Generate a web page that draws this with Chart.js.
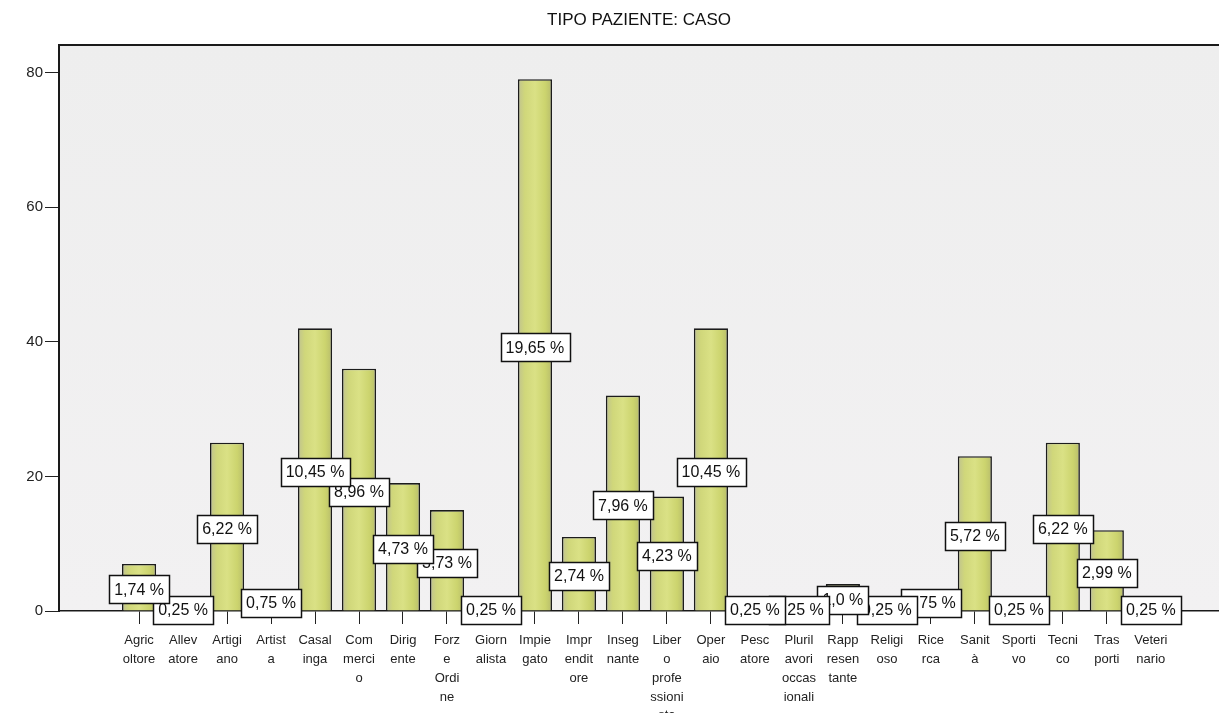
<!DOCTYPE html>
<html>
<head>
<meta charset="utf-8">
<script src="https://cdn.jsdelivr.net/npm/chart.js@4/dist/chart.umd.min.js"></script>
<style>
  html, body { margin: 0; padding: 0; background: #ffffff; }
  #wrap { width: 1219px; height: 713px; position: relative; }
</style>
</head>
<body>
<div id="wrap"><canvas id="c"></canvas></div>
<script>
const titleText = 'TIPO PAZIENTE: CASO';
const categories = ['Agricoltore','Allevatore','Artigiano','Artista','Casalinga','Commercio','Dirigente','Forze Ordine','Giornalista','Impiegato','Imprenditore','Insegnante','Libero professionista','Operaio','Pescatore','Plurilavori occasionali','Rappresentante','Religioso','Ricerca','Sanità','Sportivo','Tecnico','Trasporti','Veterinario'];
const counts = [7,1,25,3,42,36,19,15,1,79,11,32,17,42,1,1,4,1,3,23,1,25,12,1];
const pctLabels = ['1,74 %','0,25 %','6,22 %','0,75 %','10,45 %','8,96 %','4,73 %','3,73 %','0,25 %','19,65 %','2,74 %','7,96 %','4,23 %','10,45 %','0,25 %','0,25 %','1,0 %','0,25 %','0,75 %','5,72 %','0,25 %','6,22 %','2,99 %','0,25 %'];
const tickLabels = [['Agric','oltore'],['Allev','atore'],['Artigi','ano'],['Artist','a'],['Casal','inga'],['Com','merci','o'],['Dirig','ente'],['Forz','e','Ordi','ne'],['Giorn','alista'],['Impie','gato'],['Impr','endit','ore'],['Inseg','nante'],['Liber','o','profe','ssioni','sta'],['Oper','aio'],['Pesc','atore'],['Pluril','avori','occas','ionali'],['Rapp','resen','tante'],['Religi','oso'],['Rice','rca'],['Sanit','à'],['Sporti','vo'],['Tecni','co'],['Tras','porti'],['Veteri','nario']];
const yTicks = [0,20,40,60,80];

const barData = counts.map((v, i) => ({ x: i, y: v }));

const bgPlugin = {
  id: 'bg',
  beforeDraw(chart) {
    const { ctx, chartArea: a } = chart;
    ctx.save();
    const g = ctx.createLinearGradient(0, a.top, 0, a.bottom);
    g.addColorStop(0, '#eeeeee');
    g.addColorStop(1, '#f2f1f2');
    ctx.fillStyle = g;
    ctx.fillRect(a.left, a.top, a.right - a.left, a.bottom - a.top);
    ctx.restore();
  },
  afterDraw(chart) {
    const { ctx, chartArea: a } = chart;
    ctx.save();
    ctx.strokeStyle = '#1a1a1a';
    ctx.lineWidth = 2;
    ctx.beginPath();
    ctx.moveTo(a.left - 1, a.top);
    ctx.lineTo(a.right, a.top);
    ctx.stroke();
    ctx.restore();
  }
};

const pctPlugin = {
  id: 'pct',
  afterDatasetsDraw(chart) {
    const { ctx } = chart;
    const xs = chart.scales.x, ys = chart.scales.y;
    ctx.save();
    ctx.font = '16px "Liberation Sans", Arial, sans-serif';
    ctx.textAlign = 'center';
    ctx.textBaseline = 'middle';
    for (let i = counts.length - 1; i >= 0; i--) {
      const cx = xs.getPixelForValue(i);
      const cy = ys.getPixelForValue(counts[i] / 2) + 2;
      const w = ctx.measureText(pctLabels[i]).width + 10;
      const h = 28;
      const x0 = Math.round(cx - w / 2) + 0.5, y0 = Math.round(cy - h / 2) + 0.5;
      ctx.fillStyle = '#ffffff';
      ctx.fillRect(x0, y0, Math.round(w), h);
      ctx.strokeStyle = '#111111';
      ctx.lineWidth = 1.5;
      ctx.strokeRect(x0, y0, Math.round(w), h);
      ctx.fillStyle = '#111111';
      ctx.fillText(pctLabels[i], cx, cy + 1);
    }
    ctx.restore();
  }
};

function barFill(c) {
  const chart = c.chart;
  if (!chart.chartArea || !chart.scales.x || !c.raw) return '#d3d97c';
  const cx = chart.scales.x.getPixelForValue(c.raw.x);
  const g = chart.ctx.createLinearGradient(cx - 17, 0, cx + 17, 0);
  g.addColorStop(0, '#c0c390');
  g.addColorStop(0.2, '#d0d77a');
  g.addColorStop(0.5, '#dae185');
  g.addColorStop(0.8, '#ccd46e');
  g.addColorStop(1, '#b8bd6c');
  return g;
}

new Chart(document.getElementById('c'), {
  type: 'bar',
  data: {
    datasets: [{
      data: barData,
      backgroundColor: barFill,
      borderColor: '#1c1c1c',
      borderWidth: 1.6,
      barPercentage: 0.97,
      categoryPercentage: 0.8
    }]
  },
  options: {
    responsive: true,
    maintainAspectRatio: false,
    animation: false,
    layout: { padding: { top: 0, right: 0, bottom: 0, left: 0 } },
    plugins: {
      legend: { display: false },
      tooltip: { enabled: false },
      title: {
        display: true,
        text: titleText,
        fullSize: false,
        color: '#111111',
        font: { family: '"Liberation Sans Narrow", "Liberation Sans", Arial, sans-serif', size: 17, weight: 'normal', lineHeight: 1.2 },
        padding: { top: 10, bottom: 14.6 }
      }
    },
    scales: {
      x: {
        type: 'linear',
        offset: false,
        min: -1.82,
        max: 24.55,
        afterBuildTicks(scale) { scale.ticks = categories.map((_, i) => ({ value: i })); },
        afterFit(scale) { scale.height = 102; },
        grid: { offset: false, drawOnChartArea: false, drawTicks: true, tickLength: 13, color: '#222222', lineWidth: 1 },
        border: { display: true, color: '#1a1a1a', width: 1.5 },
        ticks: {
          autoSkip: false,
          maxRotation: 0,
          minRotation: 0,
          padding: 7,
          color: '#222222',
          font: { family: '"Liberation Sans Narrow", "Liberation Sans", Arial, sans-serif', size: 13, lineHeight: 1.45 },
          callback: (v) => tickLabels[v] || ''
        }
      },
      y: {
        min: 0,
        max: 84.09,
        afterBuildTicks(scale) { scale.ticks = yTicks.map(v => ({ value: v })); },
        afterFit(scale) { scale.width = 59; },
        grid: { drawOnChartArea: false, drawTicks: true, tickLength: 14, color: '#222222', lineWidth: 1 },
        border: { display: true, color: '#1a1a1a', width: 2 },
        ticks: {
          padding: 2,
          color: '#222222',
          font: { family: '"Liberation Sans", Arial, sans-serif', size: 15 }
        }
      }
    }
  },
  plugins: [bgPlugin, pctPlugin]
});
</script>
</body>
</html>
